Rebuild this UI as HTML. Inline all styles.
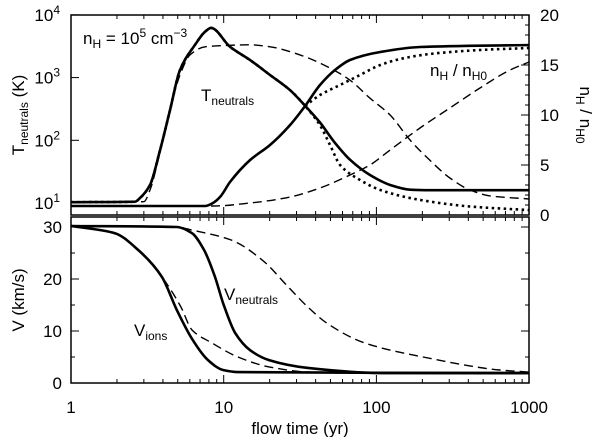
<!DOCTYPE html>
<html><head><meta charset="utf-8"><style>
body{margin:0;background:#fff}
svg{display:block;font-family:"Liberation Sans",sans-serif}
</style></head><body>
<svg id="chart" width="600" height="437" viewBox="0 0 600 437" xmlns="http://www.w3.org/2000/svg">
<g id="frames"></g>
<g id="ticks"></g>
<g id="series"></g>
<g id="labels" font-size="17" fill="#000"></g>
</svg>
<script>
// ---- data (time in yr) ----
const tempSolidT=[1,2.63,2.83,3.29,3.83,4.45,5.17,6.49,7.55,8.26,11.0,14.9,20.1,27.2,34.1,42.7,53.6,67.2,90.8,123,166,224,1000];
const tempSolidV=[10.3,10.5,12,19.4,70,302,1320,3330,5400,6200,3100,1900,1100,630,355,192,91,49,28,19.4,16.3,16,16];
const tempDashT=[1,3.0,3.29,3.83,4.45,5.17,6.02,7.55,10.2,14.9,20.1,31.6,49.7,67.2,90.8,123,166,224,303,410,554,1000];
const tempDashV=[10.3,10.5,16.1,65,302,1100,2300,3100,3250,3330,3100,2300,1420,910,470,253,101,48,25,16.1,13,11.6];
const tempDotT=[34.1,42.7,49.7,57.8,78.1,106,193,410,1000];
const tempDotV=[355,174,84,40.5,23.3,16.1,11.2,8.8,7.7];
const densSolidT=[1,7.55,8.5,9.46,11.0,14.9,20.1,27.2,34.1,42.7,53.6,67.2,106,193,1000];
const densSolidV=[0.9,0.9,1.2,1.8,3.3,5.5,7.0,9.0,10.9,13.0,14.5,15.5,16.3,16.8,17.0];
const densDotT=[34.1,42.7,57.8,78.1,106,143,224,477,1000];
const densDotV=[10.9,12.0,13.0,14.0,15.0,15.6,16.1,16.5,16.7];
const densDashT=[1,8.5,14.9,27.2,42.7,67.2,90.8,123,193,303,477,750,1000];
const densDashV=[0.9,0.9,1.2,1.8,2.7,4.0,5.0,6.5,8.7,10.7,12.7,14.5,15.3];
const vIonSolidT=[1,1.94,2.75,3.94,4.94,6.2,7.89,9.9,12.4,1000];
const vIonSolidV=[30.2,28.8,25.6,20.4,14.0,8.5,4.4,2.5,2.1,1.9];
const vIonDashT=[1,1.94,2.75,3.94,5.25,6.2,8.38,12.4,19.8,35.6,84,1000];
const vIonDashV=[30.2,28.8,25.6,20.4,14.6,10.2,7.7,5.0,3.1,2.1,1.9,1.8];
const vNeuSolidT=[1,4.94,6.2,7.43,8.77,9.9,11.9,14.9,19.8,35.6,114,1000];
const vNeuSolidV=[30.2,30,28.8,25.6,20.4,15.4,9.6,6.3,4.4,2.9,1.9,1.9];
const vNeuDashT=[1,4.94,6.2,11.2,17.8,26.4,35.6,47.4,84,202,644,1000];
const vNeuDashV=[30.2,30,29.4,27.5,23.7,18.5,14.6,11.5,7.7,5.0,2.5,2.1];
const xTickVals=[1,10,100,1000];
const tTickExps=[1,2,3,4];
const nTickVals=[0,5,10,15,20];
const vTickVals=[0,10,20,30];

// ---- axes ----
const X0=71,X1=529;
const xs=t=>X0+152.7*Math.log10(t);
const yT=T=>203-62.7*(Math.log10(T)-1);
const yN=n=>215-10*n;
const yV=v=>383-5.2*v;
const NS='http://www.w3.org/2000/svg';
function mk(tag,attrs,parent){const e=document.createElementNS(NS,tag);for(const k in attrs)e.setAttribute(k,attrs[k]);parent.appendChild(e);return e;}
const frames=document.getElementById('frames'),ticks=document.getElementById('ticks'),series=document.getElementById('series'),labels=document.getElementById('labels');

let f1=mk('rect',{x:X0,y:15,width:X1-X0,height:200,fill:'none',stroke:'#000','stroke-width':1.5},frames);


let f2=mk('rect',{x:X0,y:217,width:X1-X0,height:166,fill:'none',stroke:'#000','stroke-width':1.5},frames);



function tk(x1,y1,x2,y2){const l=mk('line',{x1,y1,x2,y2,stroke:'#000','stroke-width':1},ticks);

}
[[15,1],[215,-1],[217,1],[383,-1]].forEach(([y,d])=>{
  for(let dec=1;dec<=1000;dec*=10){for(let m=1;m<10;m++){const t=dec*m;if(t>1000)break;const x=xs(t);const len=(m==1)?8:4;tk(x,y,x,y+d*len);}}
});
tTickExps.forEach(e=>{const y=yT(Math.pow(10,e));tk(X0,y,X0+8,y);});
for(let n=0;n<=20;n++){const y=yN(n);const len=n%5==0?8:4;tk(X1,y,X1-len,y);}
for(let v=0;v<=30;v+=5){const y=yV(v);const len=v%10==0?8:4;tk(X0,y,X0+len,y);tk(X1,y,X1-len,y);}

// ---- curves (monotone cubic in pixel space) ----
function pathFrom(ts,vs,yf){
 const p=ts.map((t,i)=>[xs(t),yf(vs[i])]);const n=p.length;
 const dl=[],m=[];
 for(let i=0;i<n-1;i++)dl.push((p[i+1][1]-p[i][1])/(p[i+1][0]-p[i][0]));
 for(let i=0;i<n;i++){
  if(i==0)m.push(dl[0]);else if(i==n-1)m.push(dl[n-2]);
  else{ if(dl[i-1]*dl[i]<=0)m.push(0);else{const h0=p[i][0]-p[i-1][0],h1=p[i+1][0]-p[i][0];
   const w1=2*h1+h0,w2=h1+2*h0;m.push((w1+w2)/(w1/dl[i-1]+w2/dl[i]));}}
 }
 let d='M'+p[0][0].toFixed(1)+','+p[0][1].toFixed(1);
 for(let i=0;i<n-1;i++){const h=p[i+1][0]-p[i][0];
  const c1=[p[i][0]+h/3,p[i][1]+m[i]*h/3],c2=[p[i+1][0]-h/3,p[i+1][1]-m[i+1]*h/3];
  d+=' C'+c1.map(v=>v.toFixed(1))+' '+c2.map(v=>v.toFixed(1))+' '+p[i+1][0].toFixed(1)+','+p[i+1][1].toFixed(1);}
 return d;}
const SOL={stroke:'#000','stroke-width':2.6,fill:'none','stroke-linejoin':'round'};
const DSH={stroke:'#000','stroke-width':1.4,fill:'none','stroke-dasharray':'9,5'};
const DOT={stroke:'#000','stroke-width':2.6,fill:'none','stroke-dasharray':'2.5,3.5'};
function line(ts,vs,yf,sty,name){const e=mk('path',Object.assign({d:pathFrom(ts,vs,yf)},sty),series);

}
line(tempDashT,tempDashV,yT,DSH,'temp-ions-dashed');
line(densDashT,densDashV,yN,DSH,'density-dashed');
line(tempSolidT.slice(0,15).concat(tempDotT.slice(1)),tempSolidV.slice(0,15).concat(tempDotV.slice(1)),yT,DOT,'temp-dotted');
line(densDotT,densDotV,yN,DOT,'density-dotted');
line(tempSolidT,tempSolidV,yT,SOL,'temp-neutrals-solid');
line(densSolidT,densSolidV,yN,SOL,'density-solid');
line(vIonDashT,vIonDashV,yV,DSH,'v-ions-dashed');
line(vNeuDashT,vNeuDashV,yV,DSH,'v-neutrals-dashed');
line(vIonSolidT,vIonSolidV,yV,SOL,'v-ions-solid');
line(vNeuSolidT,vNeuSolidV,yV,SOL,'v-neutrals-solid');

// ---- labels ----
function txt(x,y,s,anchor,name,extra){const e=mk('text',Object.assign({x,y,'text-anchor':anchor||'start'},extra||{}),labels);e.innerHTML=s;

return e;}
xTickVals.forEach(t=>txt(xs(t),413,String(t),'middle','x-tick-label'));
tTickExps.forEach(e=>txt(60,yT(Math.pow(10,e))+6,'10<tspan font-size="12" dy="-7">'+e+'</tspan>','end','t-tick-label'));
nTickVals.forEach(n=>txt(540,yN(n)+6,String(n),'start','n-tick-label'));
vTickVals.forEach(v=>txt(62,yV(v)+6,String(v),'end','v-tick-label'));
txt(300,434,'flow time (yr)','middle','x-axis-title');
txt(24,115,'T<tspan font-size="12" dy="4">neutrals</tspan><tspan dy="-4"> (K)</tspan>','middle','y-axis-title-temp',{transform:'rotate(-90 24 115)'});
txt(24,300,'V (km/s)','middle','y-axis-title-velocity',{transform:'rotate(-90 24 300)'});
txt(580,115,'n<tspan font-size="12" dy="4">H</tspan><tspan dy="-4"> / n</tspan><tspan font-size="12" dy="4">H0</tspan>','middle','y-axis-title-density',{transform:'rotate(90 580 115)'});
txt(83,44,'n<tspan font-size="12" dy="4">H</tspan><tspan dy="-4"> = 10</tspan><tspan font-size="12" dy="-7">5</tspan><tspan dy="7"> cm</tspan><tspan font-size="12" dy="-7">−3</tspan>','start','density-annotation');
txt(201,101,'T<tspan font-size="12" dy="4">neutrals</tspan>','start','t-neutrals-label');
txt(430,76,'n<tspan font-size="12" dy="4">H</tspan><tspan dy="-4"> / n</tspan><tspan font-size="12" dy="4">H0</tspan>','start','density-ratio-label');
txt(224,300,'V<tspan font-size="12" dy="4">neutrals</tspan>','start','v-neutrals-label');
txt(134,336,'V<tspan font-size="12" dy="4">ions</tspan>','start','v-ions-label');
</script>
</body></html>
